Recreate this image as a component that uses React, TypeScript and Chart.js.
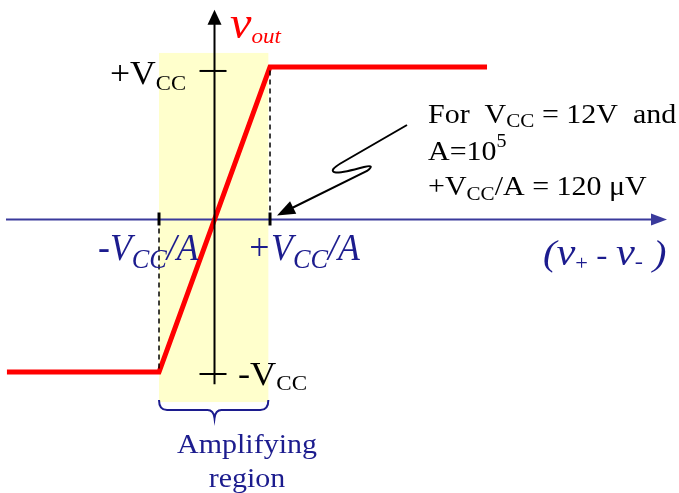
import React, { useEffect, useRef } from "react";
import { Chart, registerables } from "chart.js";

Chart.register(...registerables);

// ---- data (normalised units: x in Vcc/A, y in Vcc) ----
const transferX = [-3.74, -1, 1, 4.91];
const transferY = [-1, -1, 1, 1];
const dashLeftX = [-1, -1];
const dashLeftY = [0, -1];
const dashRightX = [1, 1];
const dashRightY = [0, 1];
const regionX = [-1, 0.97];
const regionY = [-1.197, 1.092];
const xTickValues = [-1, 1];
const yTickValues = [0.974, -1.013];
const xAxisExtent = [-3.757, 8.153];
const yAxisExtent = [1.375, -1.08];
const xRange = [-3.865, 8.369];
const yRange = [-1.7934, 1.4393];

const FONT = '"Liberation Serif", "Times New Roman", serif';
const NAVY = "#1c1c8e";
const AXIS_NAVY = "#3a3a9c";

type Seg = { t: string; size: number; italic?: boolean; dy?: number; color?: string };

function drawRich(
  ctx: CanvasRenderingContext2D,
  x: number,
  y: number,
  segs: Seg[],
  color: string,
  sx = 1,
  align: "left" | "center" = "left"
) {
  ctx.save();
  ctx.textBaseline = "alphabetic";
  ctx.textAlign = "left";
  let total = 0;
  const widths = segs.map((s) => {
    ctx.font = `${s.italic ? "italic " : ""}${s.size}px ${FONT}`;
    const w = ctx.measureText(s.t).width;
    total += w;
    return w;
  });
  const startX = align === "center" ? x - (total * sx) / 2 : x;
  ctx.translate(startX, y);
  ctx.scale(sx, 1);
  let cx = 0;
  segs.forEach((s, i) => {
    ctx.font = `${s.italic ? "italic " : ""}${s.size}px ${FONT}`;
    ctx.fillStyle = s.color || color;
    ctx.fillText(s.t, cx, s.dy || 0);
    cx += widths[i];
  });
  ctx.restore();
}

function arrowHead(ctx: CanvasRenderingContext2D, tipX: number, tipY: number, fromX: number, fromY: number, len: number, half: number, color: string) {
  const ang = Math.atan2(tipY - fromY, tipX - fromX);
  ctx.save();
  ctx.fillStyle = color;
  ctx.beginPath();
  ctx.moveTo(tipX, tipY);
  ctx.lineTo(tipX - len * Math.cos(ang) + half * Math.sin(ang), tipY - len * Math.sin(ang) - half * Math.cos(ang));
  ctx.lineTo(tipX - len * Math.cos(ang) - half * Math.sin(ang), tipY - len * Math.sin(ang) + half * Math.cos(ang));
  ctx.closePath();
  ctx.fill();
  ctx.restore();
}

const backgroundPlugin = {
  id: "bg",
  beforeDatasetsDraw(chart: any) {
    const { ctx, scales } = chart;
    const xs = scales.x;
    const ys = scales.y;
    const x0 = xs.getPixelForValue(regionX[0]);
    const x1 = xs.getPixelForValue(regionX[1]);
    const y0 = ys.getPixelForValue(regionY[1]);
    const y1 = ys.getPixelForValue(regionY[0]);
    ctx.save();
    ctx.fillStyle = "#ffffcc";
    ctx.fillRect(x0, y0, x1 - x0, y1 - y0);
    const ay = ys.getPixelForValue(0);
    const ax0 = xs.getPixelForValue(xAxisExtent[0]);
    const ax1 = xs.getPixelForValue(xAxisExtent[1]);
    ctx.strokeStyle = AXIS_NAVY;
    ctx.lineWidth = 2;
    ctx.beginPath();
    ctx.moveTo(ax0, ay);
    ctx.lineTo(ax1 - 10, ay);
    ctx.stroke();
    arrowHead(ctx, ax1, ay, ax0, ay, 16, 6, AXIS_NAVY);
    ctx.restore();
  },
  afterDatasetsDraw(chart: any) {
    const { ctx, scales } = chart;
    const xs = scales.x;
    const ys = scales.y;
    const ox = xs.getPixelForValue(0);
    const oy = ys.getPixelForValue(0);
    ctx.save();
    const yTop = ys.getPixelForValue(yAxisExtent[0]);
    const yBot = ys.getPixelForValue(yAxisExtent[1]);
    ctx.strokeStyle = "#000";
    ctx.lineWidth = 2;
    ctx.beginPath();
    ctx.moveTo(ox, yTop + 10);
    ctx.lineTo(ox, yBot);
    ctx.stroke();
    arrowHead(ctx, ox, yTop, ox, yBot, 15, 7, "#000");
    yTickValues.forEach((v) => {
      const py = ys.getPixelForValue(v);
      ctx.beginPath();
      ctx.moveTo(ox - 15, py);
      ctx.lineTo(ox + 12, py);
      ctx.stroke();
    });
    ctx.lineWidth = 3;
    xTickValues.forEach((v) => {
      const px = xs.getPixelForValue(v);
      ctx.beginPath();
      ctx.moveTo(px, oy - 7);
      ctx.lineTo(px, oy + 6);
      ctx.stroke();
    });

    // brace under region
    const bx0 = xs.getPixelForValue(regionX[0]);
    const bx1 = xs.getPixelForValue(regionX[1]);
    const by = ys.getPixelForValue(regionY[0]) - 2;
    ctx.strokeStyle = NAVY;
    ctx.lineWidth = 2;
    ctx.beginPath();
    ctx.moveTo(bx0, by);
    ctx.quadraticCurveTo(bx0, by + 10, bx0 + 8, by + 10);
    ctx.lineTo(ox - 7, by + 10);
    ctx.quadraticCurveTo(ox - 1, by + 10, ox, by + 18);
    ctx.quadraticCurveTo(ox + 1, by + 10, ox + 7, by + 10);
    ctx.lineTo(bx1 - 8, by + 10);
    ctx.quadraticCurveTo(bx1, by + 10, bx1, by);
    ctx.stroke();

    // lightning-style pointer
    const tipX = xs.getPixelForValue(1) + 7;
    const tipY = oy - 4;
    ctx.strokeStyle = "#000";
    ctx.lineWidth = 2;
    ctx.beginPath();
    ctx.moveTo(407, 125);
    ctx.lineTo(343, 162);
    ctx.quadraticCurveTo(327, 171, 336, 172.5);
    ctx.quadraticCurveTo(342, 173, 364, 167);
    ctx.quadraticCurveTo(376, 164, 367, 171);
    ctx.lineTo(tipX + 12, tipY - 6);
    ctx.stroke();
    arrowHead(ctx, tipX, tipY, 367, 171, 18, 7, "#000");
    ctx.restore();

    // texts
    drawRich(ctx, 230, 38, [
      { t: "v", size: 46, italic: true },
      { t: "out", size: 22, italic: true, dy: 5 },
    ], "#ff0000", 1.05);
    drawRich(ctx, 110, 84, [
      { t: "+V", size: 33 },
      { t: "CC", size: 21, dy: 6 },
    ], "#000", 1.08);
    drawRich(ctx, 238, 385, [
      { t: "-V", size: 33 },
      { t: "CC", size: 21, dy: 5 },
    ], "#000", 1.1);
    drawRich(ctx, 98, 260, [
      { t: "-V", size: 38, italic: true },
      { t: "CC", size: 28, italic: true, dy: 8 },
      { t: "/A", size: 38, italic: true },
    ], NAVY, 0.94);
    drawRich(ctx, 247, 260, [
      { t: "+V", size: 38, italic: true },
      { t: "CC", size: 28, italic: true, dy: 8 },
      { t: "/A", size: 38, italic: true },
    ], NAVY, 0.94);
    drawRich(ctx, 543, 265, [
      { t: "(", size: 36, italic: true },
      { t: "v", size: 38, italic: true },
      { t: "+", size: 20, dy: 5 },
      { t: " - ", size: 30 },
      { t: "v", size: 38, italic: true },
      { t: "-", size: 22, dy: 3 },
      { t: " )", size: 36, italic: true },
    ], NAVY, 1.12);
    drawRich(ctx, 428, 123, [
      { t: "For  V", size: 27 },
      { t: "CC", size: 19, dy: 4 },
      { t: " = 12V  and", size: 27 },
    ], "#000", 1.11);
    drawRich(ctx, 428, 160, [
      { t: "A=10", size: 27 },
      { t: "5", size: 18, dy: -13 },
    ], "#000", 1.11);
    drawRich(ctx, 428, 195, [
      { t: "+V", size: 27 },
      { t: "CC", size: 19, dy: 5 },
      { t: "/A = 120 \u03bcV", size: 27 },
    ], "#000", 1.11);
    drawRich(ctx, 247, 453, [{ t: "Amplifying", size: 27 }], NAVY, 1.11, "center");
    drawRich(ctx, 247, 487, [{ t: "region", size: 27 }], NAVY, 1.11, "center");
  },
};

const toPoints = (xs: number[], ys: number[]) => xs.map((x, i) => ({ x, y: ys[i] }));

export default function App() {
  const ref = useRef<HTMLCanvasElement | null>(null);
  useEffect(() => {
    document.body.style.margin = "0";
    const canvas = ref.current!;
    const chart = new Chart(canvas, {
      type: "scatter",
      data: {
        datasets: [
          {
            data: toPoints(dashLeftX, dashLeftY),
            showLine: true,
            borderColor: "#000",
            borderWidth: 1.5,
            borderDash: [5, 4],
            pointRadius: 0,
          },
          {
            data: toPoints(dashRightX, dashRightY),
            showLine: true,
            borderColor: "#000",
            borderWidth: 1.5,
            borderDash: [5, 4],
            pointRadius: 0,
          },
          {
            data: toPoints(transferX, transferY),
            showLine: true,
            borderColor: "#ff0000",
            borderWidth: 5,
            borderJoinStyle: "miter",
            borderCapStyle: "butt",
            pointRadius: 0,
            tension: 0,
          },
        ],
      },
      options: {
        animation: false,
        responsive: false,
        devicePixelRatio: 1,
        layout: { padding: 0 },
        plugins: { legend: { display: false }, tooltip: { enabled: false } },
        events: [],
        scales: {
          x: { type: "linear", min: xRange[0], max: xRange[1], display: false },
          y: { type: "linear", min: yRange[0], max: yRange[1], display: false },
        },
      },
      plugins: [backgroundPlugin],
    });
    return () => chart.destroy();
  }, []);
  return (
    <div style={{ width: 679, height: 493, background: "#fff" }}>
      <canvas ref={ref} width={679} height={493} style={{ display: "block" }} />
    </div>
  );
}
